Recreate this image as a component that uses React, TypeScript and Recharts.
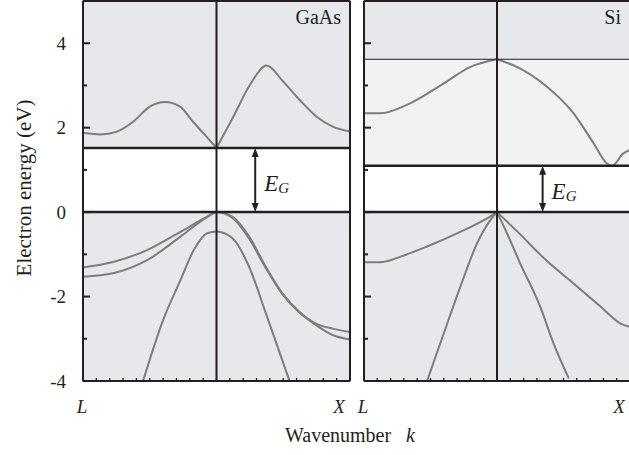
import React from 'react';
import { LineChart, Line, XAxis, YAxis, ReferenceArea, ReferenceLine } from 'recharts';

type Pt = { k: number; e: number };

const SERIF = '"Liberation Serif", "Times New Roman", serif';
const INK = '#231f20';
const BAND = '#7d7d7d';
const SHADE = '#e7e8eb';
const LIGHT = '#f2f2f3';

// k runs from L (-1) through Gamma (0) to X (+1); energies in eV
const kTicks = [-1, -0.9, -0.8, -0.7, -0.6, -0.5, -0.4, -0.3, -0.2, -0.1, 0, 0.1, 0.2, 0.3, 0.4, 0.5, 0.6, 0.7, 0.8, 0.9, 1];
const kPointNames: Record<string, string> = { '-1': 'L', '1': 'X' };
const energyTicks = [-4, -3, -2, -1, 0, 1, 2, 3, 4];
const energyDomain = [-4, 5];

// GaAs
const gaasGap = 1.52;
const gaasArrowK = 0.29;
const gaasCondL: Pt[] = [
  { k: -1, e: 1.88 }, { k: -0.87, e: 1.84 }, { k: -0.75, e: 1.9 }, { k: -0.625, e: 2.14 },
  { k: -0.5, e: 2.5 }, { k: -0.386, e: 2.61 }, { k: -0.273, e: 2.5 }, { k: -0.176, e: 2.14 },
  { k: -0.09, e: 1.84 }, { k: 0, e: 1.52 },
];
const gaasCondR: Pt[] = [
  { k: 0, e: 1.52 }, { k: 0.126, e: 2.26 }, { k: 0.25, e: 3.01 }, { k: 0.376, e: 3.47 },
  { k: 0.5, e: 3.09 }, { k: 0.625, e: 2.65 }, { k: 0.75, e: 2.26 }, { k: 0.875, e: 2.02 },
  { k: 1, e: 1.91 },
];
const gaasHeavy: Pt[] = [
  { k: -1, e: -1.31 }, { k: -0.775, e: -1.18 }, { k: -0.52, e: -0.9 }, { k: -0.27, e: -0.47 },
  { k: -0.07, e: -0.11 }, { k: 0, e: 0 }, { k: 0.12, e: -0.11 }, { k: 0.245, e: -0.58 },
  { k: 0.37, e: -1.3 }, { k: 0.495, e: -1.93 }, { k: 0.62, e: -2.36 }, { k: 0.745, e: -2.64 },
  { k: 0.87, e: -2.76 }, { k: 1, e: -2.84 },
];
const gaasLight: Pt[] = [
  { k: -1, e: -1.53 }, { k: -0.775, e: -1.45 }, { k: -0.52, e: -1.14 }, { k: -0.27, e: -0.58 },
  { k: -0.07, e: -0.12 }, { k: 0, e: 0 }, { k: 0.12, e: -0.14 }, { k: 0.245, e: -0.63 },
  { k: 0.37, e: -1.33 }, { k: 0.495, e: -1.95 }, { k: 0.62, e: -2.38 }, { k: 0.72, e: -2.62 },
  { k: 0.87, e: -2.91 }, { k: 1, e: -3.02 },
];
const gaasSplitOff: Pt[] = [
  { k: -0.55, e: -4.0 }, { k: -0.4, e: -2.56 }, { k: -0.27, e: -1.61 }, { k: -0.17, e: -0.9 },
  { k: -0.07, e: -0.5 }, { k: 0, e: -0.46 }, { k: 0.12, e: -0.62 }, { k: 0.245, e: -1.3 },
  { k: 0.37, e: -2.4 }, { k: 0.545, e: -3.98 },
];

// Si
const siGap = 1.1;
const siGammaEdge = 3.62;
const siArrowK = 0.343;
const siCondL: Pt[] = [
  { k: -1, e: 2.34 }, { k: -0.877, e: 2.34 }, { k: -0.677, e: 2.54 }, { k: -0.4, e: 3.05 },
  { k: -0.2, e: 3.44 }, { k: 0, e: 3.62 },
];
const siCondR: Pt[] = [
  { k: 0, e: 3.62 }, { k: 0.175, e: 3.4 }, { k: 0.376, e: 2.97 }, { k: 0.576, e: 2.34 },
  { k: 0.726, e: 1.63 }, { k: 0.827, e: 1.15 }, { k: 0.865, e: 1.1 }, { k: 0.95, e: 1.39 },
  { k: 1, e: 1.47 },
];
const siValL: Pt[] = [
  { k: -1, e: -1.19 }, { k: -0.86, e: -1.18 }, { k: -0.73, e: -1.06 }, { k: -0.53, e: -0.82 },
  { k: -0.276, e: -0.47 }, { k: -0.075, e: -0.15 }, { k: 0, e: 0 },
];
const siSteepL: Pt[] = [
  { k: -0.526, e: -4.0 }, { k: -0.4, e: -2.87 }, { k: -0.276, e: -1.77 }, { k: -0.15, e: -0.74 },
  { k: -0.05, e: -0.19 }, { k: 0, e: 0 },
];
const siSteepR: Pt[] = [
  { k: 0, e: 0 }, { k: 0.075, e: -0.5 }, { k: 0.175, e: -1.22 }, { k: 0.325, e: -2.24 },
  { k: 0.425, e: -3.11 }, { k: 0.54, e: -3.94 },
];
const siValR: Pt[] = [
  { k: 0, e: 0 }, { k: 0.15, e: -0.45 }, { k: 0.376, e: -1.16 }, { k: 0.576, e: -1.69 },
  { k: 0.78, e: -2.24 }, { k: 0.93, e: -2.64 }, { k: 1, e: -2.72 },
];

// inward tick on the left/right frame, long for even energies, with optional number
const EnergyTick = (props: any) => {
  const { x, y, payload, side, labels } = props;
  const v = payload.value;
  const major = v % 2 === 0;
  const dir = side === 'left' ? 1 : -1;
  return (
    <g>
      <line x1={x} x2={x + dir * (major ? 7 : 4)} y1={y} y2={y} stroke={INK} strokeWidth={2} />
      {labels && major && (
        <text x={x - 17} y={y} dy="0.35em" textAnchor="end" fontSize={19} fontFamily={SERIF} fill={INK}>
          {v}
        </text>
      )}
    </g>
  );
};

// symmetry point names under the k axis
const KTick = (props: any) => {
  const { x, y, payload } = props;
  const name = kPointNames[String(payload.value)];
  if (!name) return <g />;
  return (
    <text x={x + (payload.value > 0 ? -11 : -1)} y={y + 35} textAnchor="middle" fontSize={19}
      fontStyle="italic" fontFamily={SERIF} fill={INK}>
      {name}
    </text>
  );
};

// double-headed arrow spanning the gap, with the E_G label beside it
const GapArrow = (props: any) => {
  const { x1, y1, y2 } = props;
  const top = Math.min(y1, y2);
  const bot = Math.max(y1, y2);
  const head = 9;
  const half = 3.5;
  const mid = (top + bot) / 2;
  return (
    <g>
      <line x1={x1} x2={x1} y1={top + head - 1} y2={bot - head + 1} stroke={INK} strokeWidth={2} />
      <polygon points={`${x1},${top} ${x1 - half},${top + head} ${x1 + half},${top + head}`} fill={INK} />
      <polygon points={`${x1},${bot} ${x1 - half},${bot - head} ${x1 + half},${bot - head}`} fill={INK} />
      <text x={x1 + 9} y={mid + 10.5} fontSize={23} fontStyle="italic" fontFamily={SERIF} fill={INK}>
        E<tspan fontSize={15} dy={2}>G</tspan>
      </text>
    </g>
  );
};

interface PanelProps {
  name: string;
  width: number;
  marginLeft: number;
  marginRight: number;
  gap: number;
  gammaEdge?: number;
  arrowK: number;
  showEnergyLabels: boolean;
  curves: Pt[][];
}

// axes are 1px thick so that they render; margins leave room for that pixel
const BandPanel: React.FC<PanelProps> = ({
  name, width, marginLeft, marginRight, gap, gammaEdge, arrowK, showEnergyLabels, curves,
}) => {
  const frame = { stroke: INK, strokeWidth: 2 };
  const upperFrom = gammaEdge ?? gap;
  return (
    <LineChart width={width} height={455} margin={{ top: 0, right: marginRight - 1, bottom: 73, left: marginLeft - 1 }}>
      <XAxis type="number" dataKey="k" domain={[-1, 1]} ticks={kTicks} interval={0} height={1}
        tickSize={-3} tickMargin={0} tick={<KTick />} axisLine={frame}
        tickLine={{ stroke: INK, strokeWidth: 1.3 }} allowDataOverflow />
      <XAxis xAxisId="top" orientation="top" type="number" domain={[-1, 1]} ticks={kTicks}
        interval={0} height={1} tickSize={-3} tick={false} axisLine={frame}
        tickLine={{ stroke: INK, strokeWidth: 1.3 }} />
      <YAxis type="number" domain={energyDomain} ticks={energyTicks} interval={0} width={1}
        tickSize={0} tickMargin={0} tickLine={false} axisLine={frame} allowDataOverflow
        tick={<EnergyTick side="left" labels={showEnergyLabels} />} />
      <YAxis yAxisId="r" orientation="right" type="number" domain={energyDomain} ticks={energyTicks}
        interval={0} width={1} tickSize={0} tickMargin={0} tickLine={false} axisLine={frame}
        tick={<EnergyTick side="right" labels={false} />} />

      <ReferenceArea y1={-4} y2={0} fill={SHADE} fillOpacity={1} stroke="none" />
      {gammaEdge !== undefined && (
        <ReferenceArea y1={gap} y2={gammaEdge} fill={LIGHT} fillOpacity={1} stroke="none" />
      )}
      <ReferenceArea y1={upperFrom} y2={5} fill={SHADE} fillOpacity={1} stroke="none"
        label={{ value: name, position: 'insideTopRight', offset: 9, fontSize: 20, fill: INK, fontFamily: SERIF }} />

      {curves.map((data, i) => (
        <Line key={i} data={data} dataKey="e" type="monotone" stroke={BAND} strokeWidth={2}
          dot={false} activeDot={false} isAnimationActive={false} />
      ))}

      {gammaEdge !== undefined && <ReferenceLine y={gammaEdge} stroke={INK} strokeWidth={1} />}
      <ReferenceLine y={gap} stroke={INK} strokeWidth={2.5} />
      <ReferenceLine y={0} stroke={INK} strokeWidth={2.5} />
      <ReferenceLine x={0} stroke={INK} strokeWidth={2} />
      <ReferenceLine segment={[{ x: arrowK, y: 0 }, { x: arrowK, y: gap }]} shape={GapArrow} />
    </LineChart>
  );
};

export default function App() {
  return (
    <div style={{ position: 'fixed', left: 0, top: 0, width: 629, height: 455, overflow: 'hidden', background: '#fff', fontFamily: SERIF, color: INK }}>
      <div style={{ position: 'absolute', left: 0, top: 0 }}>
        <BandPanel name="GaAs" width={360} marginLeft={83} marginRight={10} gap={gaasGap}
          arrowK={gaasArrowK} showEnergyLabels
          curves={[gaasCondL, gaasCondR, gaasHeavy, gaasLight, gaasSplitOff]} />
      </div>
      <div style={{ position: 'absolute', left: 355, top: 0 }}>
        <BandPanel name="Si" width={286} marginLeft={9} marginRight={11} gap={siGap}
          gammaEdge={siGammaEdge} arrowK={siArrowK} showEnergyLabels={false}
          curves={[siCondL, siCondR, siValL, siSteepL, siSteepR, siValR]} />
      </div>
      <div style={{ position: 'absolute', left: 24, top: 188, transform: 'translate(-50%, -50%) rotate(-90deg)', whiteSpace: 'nowrap', fontSize: 21, lineHeight: '21px' }}>
        Electron energy (eV)
      </div>
      <div style={{ position: 'absolute', left: 350, top: 425, transform: 'translateX(-50%)', whiteSpace: 'nowrap', fontSize: 20, lineHeight: '20px' }}>
        Wavenumber <i style={{ marginLeft: 10 }}>k</i>
      </div>
    </div>
  );
}
